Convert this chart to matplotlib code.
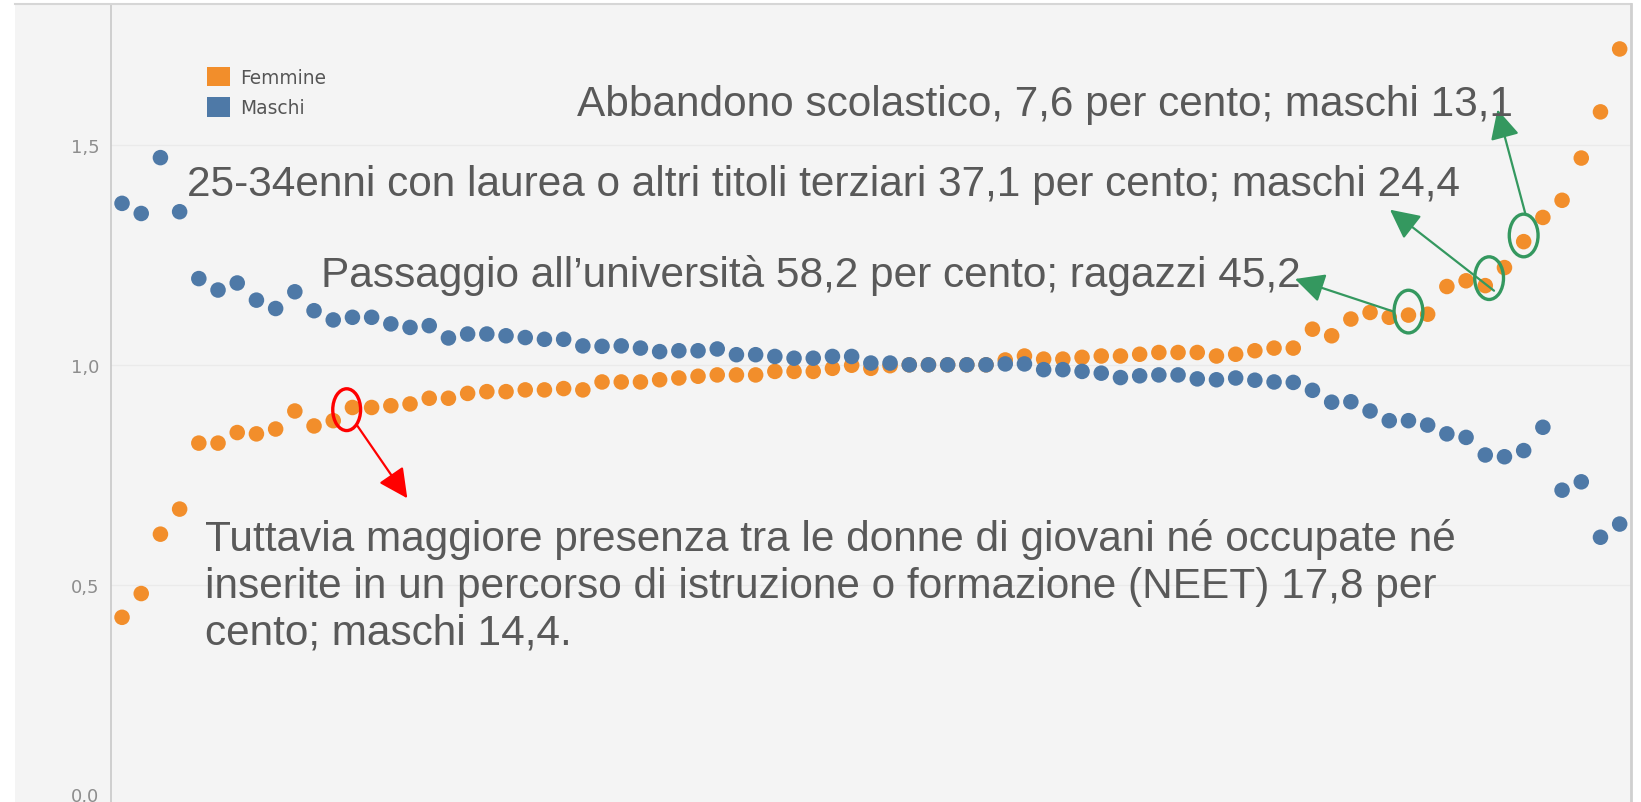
import matplotlib.pyplot as plt
from matplotlib.patches import Ellipse, Patch, Rectangle
from matplotlib.lines import Line2D
import numpy as np

# rapporto per provincia (ordinate per valore)
femmine = [0.426, 0.480, 0.615, 0.672, 0.822, 0.822, 0.846, 0.843, 0.854, 0.895,
           0.861, 0.873, 0.903, 0.903, 0.907,
           0.911, 0.924, 0.924, 0.935, 0.939, 0.939, 0.943, 0.943, 0.946, 0.943,
           0.961, 0.961, 0.961, 0.966, 0.970, 0.974, 0.977, 0.977, 0.977, 0.985,
           0.985, 0.985, 0.992, 0.999,
           0.992, 0.998, 1.000, 1.000, 1.000, 1.000, 1.000, 1.011, 1.020, 1.013,
           1.013, 1.017, 1.020, 1.020, 1.024, 1.028, 1.028, 1.028, 1.020, 1.024,
           1.032, 1.038, 1.038, 1.081, 1.066, 1.104, 1.119, 1.108, 1.113, 1.115,
           1.178, 1.191, 1.180, 1.221, 1.280, 1.335, 1.374, 1.470, 1.575, 1.718]
maschi = [1.367, 1.344, 1.471, 1.348, 1.196, 1.170, 1.186, 1.147, 1.128, 1.166,
          1.123, 1.102, 1.108, 1.108, 1.093, 1.085,
          1.089, 1.061, 1.070, 1.070, 1.066, 1.062, 1.058, 1.058, 1.043, 1.042,
          1.043, 1.038, 1.030, 1.032, 1.032, 1.036, 1.023, 1.023, 1.019, 1.015,
          1.015, 1.019, 1.019,
          1.004, 1.004, 1.000, 1.000, 1.000, 1.000, 1.000, 1.002, 1.002, 0.989,
          0.989, 0.985, 0.981, 0.971, 0.975, 0.977, 0.977, 0.968, 0.966, 0.970,
          0.965, 0.961, 0.960, 0.942, 0.915, 0.916, 0.895, 0.873, 0.873, 0.863,
          0.843, 0.835, 0.795, 0.791, 0.805, 0.858, 0.715, 0.734, 0.608, 0.638]
pos = np.arange(len(femmine))

yticks = [0.0, 0.5, 1.0, 1.5]
series_labels = ['Femmine', 'Maschi']
colors = ['#f28e2b', '#4e79a7']

notes = [
    'Abbandono scolastico, 7,6 per cento; maschi 13,1',
    '25-34enni con laurea o altri titoli terziari 37,1 per cento; maschi 24,4',
    'Passaggio all\u2019università 58,2 per cento; ragazzi 45,2',
    'Tuttavia maggiore presenza tra le donne di giovani né occupate né\n'
    'inserite in un percorso di istruzione o formazione (NEET) 17,8 per\n'
    'cento; maschi 14,4.',
]

W, H = 1641, 803
fig = plt.figure(figsize=(W / 100, H / 100), dpi=100)
fig.patch.set_facecolor('white')


def fx(px):
    return px / W


def fy(py):
    return 1 - py / H


# pannello grigio stile tableau
fig.add_artist(Rectangle((fx(15), 0), fx(1631) - fx(15), fy(5), transform=fig.transFigure,
                         facecolor='#f4f4f4', edgecolor='none', zorder=0))
fig.add_artist(Line2D([fx(15), fx(1631)], [fy(5), fy(5)], transform=fig.transFigure,
                      color='#d6d6d6', lw=1.5))
fig.add_artist(Line2D([fx(1631), fx(1631)], [fy(5), 0], transform=fig.transFigure,
                      color='#d0d0d0', lw=2))

ax = fig.add_axes([fx(110.7), fy(805.7), fx(1631) - fx(110.7), fy(5.1) - fy(805.7)])
ax.set_facecolor('none')
ax.set_xlim(-0.59, 78.59)
ax.set_ylim(0, 1.82)

for s in ['top', 'right', 'bottom']:
    ax.spines[s].set_visible(False)
ax.spines['left'].set_color('#c8c8c8')
ax.spines['left'].set_linewidth(1.2)

ax.set_xticks([])
ax.set_yticks(yticks)
ax.set_yticklabels([f'{v:.1f}'.replace('.', ',') for v in yticks])
ax.tick_params(axis='y', length=0, pad=8, labelsize=13, labelcolor='#8d8d8d')
ax.yaxis.get_major_ticks()[0].label1.set_verticalalignment('bottom')
for v in yticks[1:]:
    ax.axhline(v, color='#eaeaea', lw=1, zorder=1)

ax.scatter(pos, femmine, s=125, color=colors[0], edgecolors='none', zorder=3)
ax.scatter(pos, maschi, s=125, color=colors[1], edgecolors='none', zorder=4)

leg = ax.legend(handles=[Patch(facecolor=c, edgecolor='none') for c in colors],
                labels=series_labels, loc='upper left',
                bbox_to_anchor=(fx(206.7), fy(67.7)), bbox_transform=fig.transFigure,
                frameon=False, fontsize=13.4, handlelength=1.24, handleheight=1.24,
                handletextpad=0.58, labelspacing=0.55, borderpad=0, borderaxespad=0)
for t in leg.get_texts():
    t.set_color('#555555')

# testi di commento
txt = dict(family='Liberation Sans', fontsize=30.5, color='#595959', va='baseline', ha='left')
fig.text(fx(576.7), fy(116), notes[0], **txt)
fig.text(fx(186.7), fy(196), notes[1], **txt)
fig.text(fx(320.7), fy(287.3), notes[2], **txt)
# per il testo su piu' righe la baseline e' quella dell'ultima riga
fig.text(fx(205), fy(645), notes[3], linespacing=1.22, **txt)

# cerchi sui punti evidenziati
green = '#34985f'
for i, dx, dy in [(73, 0.0, 0.014), (71, 0.2, 0.017), (67, 0.0, 0.008)]:
    ax.add_patch(Ellipse((pos[i] + dx, femmine[i] + dy), 1.5, 0.097, fill=False,
                         edgecolor=green, lw=2.4, zorder=5))
ax.add_patch(Ellipse((pos[12] - 0.3, femmine[12] - 0.005), 1.45, 0.095, fill=False,
                     edgecolor='#ff0000', lw=2.4, zorder=5))

# frecce (coordinate in pixel del riferimento)
inv = ax.transData.inverted()


def px2data(px, py):
    return inv.transform((px, H - py))


arrows = [((1525.7, 216), (1497.5, 110.5), green),
          ((1494, 291.7), (1390, 210.7), green),
          ((1394, 312.7), (1295, 280), green),
          ((357.3, 426.7), (407.3, 499.3), '#ff0000')]
for tail, tip, c in arrows:
    ax.annotate('', xy=px2data(*tip), xytext=px2data(*tail),
                arrowprops=dict(arrowstyle='-|>,head_length=0.9,head_width=0.45',
                                mutation_scale=20, color=c, lw=1.6,
                                shrinkA=0, shrinkB=0), zorder=6)

fig.savefig('out.png', dpi=100)
